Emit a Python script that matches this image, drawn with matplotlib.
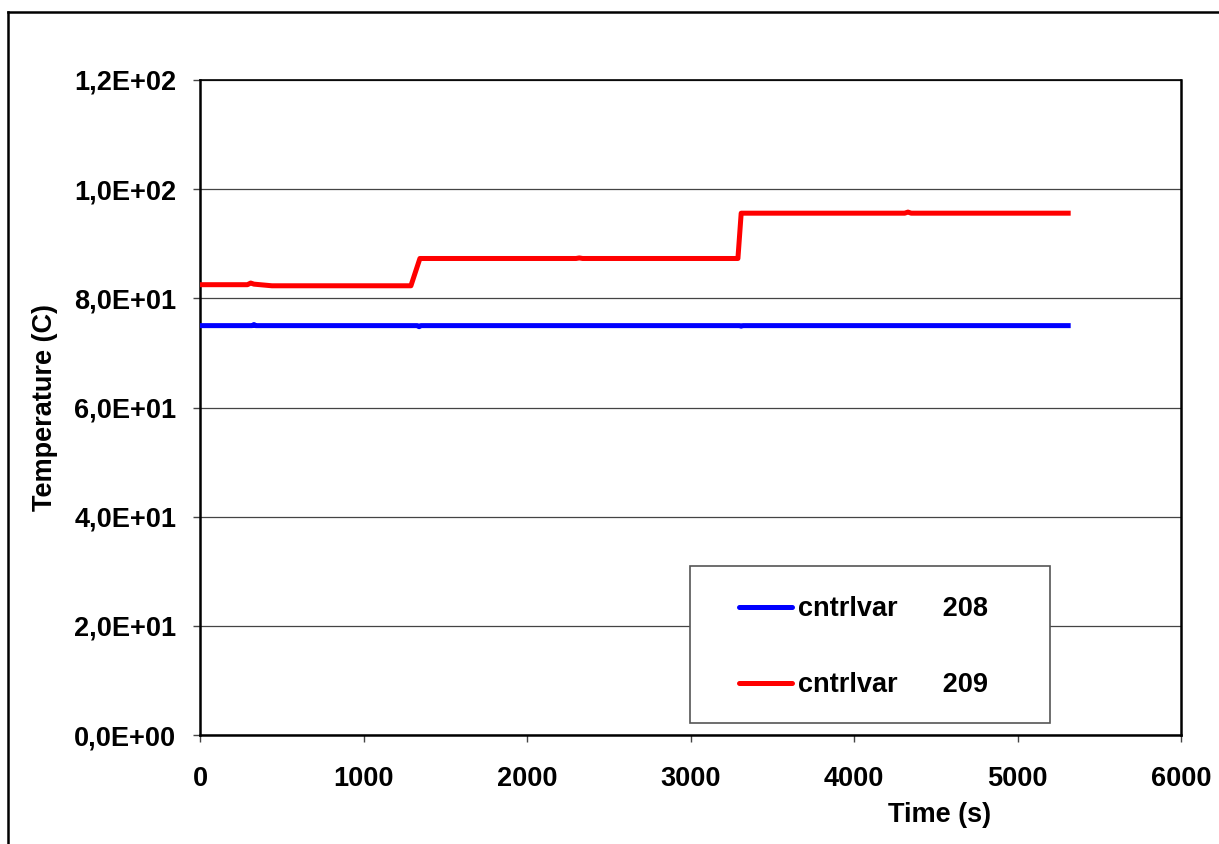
import matplotlib
matplotlib.use("Agg")
import matplotlib.pyplot as plt
from matplotlib.lines import Line2D
from matplotlib.patches import Rectangle
from matplotlib.ticker import FuncFormatter

# ---- data ----
time_208 = [0, 320, 330, 340, 1330, 1340, 1350, 3300, 3310, 3320, 5310]
temp_208 = [75.0, 75.0, 75.2, 75.0, 75.0, 74.8, 75.0, 75.0, 74.9, 75.0, 75.0]

time_209 = [0, 290, 310, 330, 440, 1290, 1345, 2300, 2320, 2340, 3290, 3310, 4310, 4330, 4350, 5310]
temp_209 = [82.5, 82.5, 82.8, 82.6, 82.3, 82.3, 87.3, 87.3, 87.4, 87.3, 87.3, 95.6, 95.6, 95.8, 95.6, 95.6]

series_labels = ["cntrlvar      208", "cntrlvar      209"]
series_colors = ["#0000FF", "#FF0000"]

x_ticks = [0, 1000, 2000, 3000, 4000, 5000, 6000]
y_ticks = [0, 20, 40, 60, 80, 100, 120]

plt.rcParams['font.family'] = ['Liberation Sans', 'DejaVu Sans']
plt.rcParams['font.weight'] = 'bold'

FS = 19.5

fig = plt.figure(figsize=(12.19, 8.44), dpi=100)
ax = fig.add_axes([200/1219, 109/844, 981/1219, 655/844])

ax.plot(time_208, temp_208, color=series_colors[0], lw=3.6, label=series_labels[0],
        solid_joinstyle='round', zorder=4)
ax.plot(time_209, temp_209, color=series_colors[1], lw=3.6, label=series_labels[1],
        solid_joinstyle='round', zorder=4)

ax.set_xlim(0, 6000)
ax.set_ylim(0, 120)
ax.set_xticks(x_ticks)
ax.set_yticks(y_ticks)
ax.yaxis.set_major_formatter(FuncFormatter(lambda v, p: f"{v:.1E}".replace('.', ',')))
ax.grid(axis='y', color='#444444', lw=0.9, zorder=1)
ax.set_axisbelow(True)

for s in ax.spines.values():
    s.set_color('black')
ax.spines['left'].set_linewidth(1.8)
ax.spines['bottom'].set_linewidth(1.8)
ax.spines['top'].set_linewidth(1.2)
ax.spines['right'].set_linewidth(1.8)

ax.tick_params(axis='both', direction='out', length=5, width=1.0, color='#444444',
               labelsize=FS)
ax.tick_params(axis='y', pad=12)
ax.tick_params(axis='x', pad=17)
for lab in ax.get_xticklabels() + ax.get_yticklabels():
    lab.set_fontweight('bold')

ax.set_xlabel("Time (s)", fontsize=FS, fontweight='bold')
ax.set_ylabel("Temperature (C)", fontsize=FS, fontweight='bold')
ax.xaxis.set_label_coords((940-200)/981, (735-802)/655)
ax.yaxis.set_label_coords((58-200)/981, 0.5)

# legend box
ax.add_patch(Rectangle((490/981, 12/655), 360/981, 157/655, transform=ax.transAxes,
                       facecolor='white', edgecolor='#555555', lw=1.2, zorder=5))
leg = ax.legend(loc='upper left', bbox_to_anchor=((739-200)/981, (735-596)/655),
                frameon=False, borderpad=0, borderaxespad=0,
                handlelength=1.95, handletextpad=0.22, labelspacing=1.86,
                prop={'weight': 'bold', 'size': FS})
leg.set_zorder(6)
for ln in leg.get_lines():
    ln.set_linewidth(3.6)
    ln.set_solid_capstyle('round')

# outer frame of the chart area
fig.add_artist(Line2D([8/1219, 8/1219], [0, 1 - 12/844], transform=fig.transFigure,
                      color='black', lw=1.8))
fig.add_artist(Line2D([8/1219, 1], [1 - 12/844, 1 - 12/844], transform=fig.transFigure,
                      color='black', lw=1.8))

fig.savefig("out.png", dpi=100, facecolor='white')
